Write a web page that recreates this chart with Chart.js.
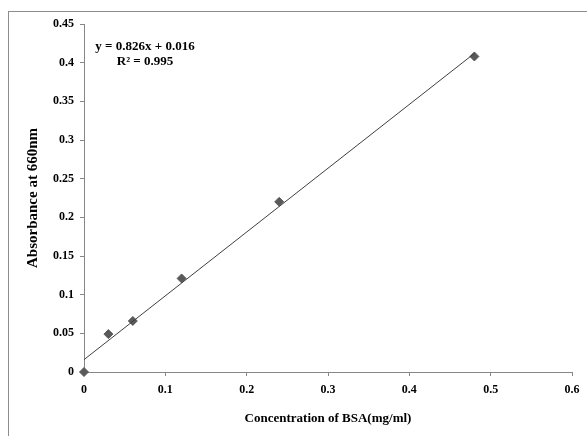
<!DOCTYPE html>
<html lang="en">
<head>
    <meta charset="UTF-8">
    <title>BSA standard curve</title>
    <script src="https://cdn.jsdelivr.net/npm/chart.js"></script>
    <style>
        html, body {
            margin: 0;
            padding: 0;
            background: #fff;
        }
        #wrap {
            width: 587px;
            height: 436px;
        }
    </style>
</head>
<body>
    <div id="wrap"><canvas id="bsaChart"></canvas></div>

    <script>
        // Concentración (mg/ml) y absorbancia
        const concentration = [0, 0.03, 0.06, 0.12, 0.24, 0.48];
        const absorbance = [0, 0.049, 0.066, 0.121, 0.22, 0.408];

        // extremos de la línea de tendencia
        const trendX = [0, 0.48];
        const trendY = [0.016, 0.412];

        const equationLines = ['y = 0.826x + 0.016', 'R² = 0.995'];

        const axisGray = '#878787';
        const serifBold = { family: '"Liberation Serif", "Times New Roman", serif', weight: 'bold' };

        function fmt(v) {
            return String(Number(v.toFixed(2)));
        }

        const framePlugin = {
            id: 'frame',
            beforeDraw(chart) {
                const ctx = chart.ctx;
                ctx.save();
                ctx.strokeStyle = '#8c8c8c';
                ctx.lineWidth = 1;
                ctx.strokeRect(8.5, 11.5, 700, 500);
                ctx.restore();
            },
            afterDraw(chart) {
                const ctx = chart.ctx;
                ctx.save();
                ctx.fillStyle = '#000';
                ctx.font = 'bold 13px "Liberation Serif", "Times New Roman", serif';
                ctx.textAlign = 'center';
                ctx.textBaseline = 'middle';
                ctx.fillText(equationLines[0], 145, 47);
                ctx.fillText(equationLines[1], 145, 62);
                ctx.restore();
            }
        };

        const ctx = document.getElementById('bsaChart').getContext('2d');

        new Chart(ctx, {
            type: 'scatter',
            data: {
                datasets: [
                    {
                        label: 'Trend',
                        data: trendX.map((x, i) => ({ x: x, y: trendY[i] })),
                        showLine: true,
                        borderColor: '#3f3f3f',
                        borderWidth: 1,
                        pointRadius: 0
                    },
                    {
                        label: 'Absorbance',
                        data: concentration.map((x, i) => ({ x: x, y: absorbance[i] })),
                        pointStyle: 'rectRot',
                        pointRadius: 4.5,
                        backgroundColor: '#595959',
                        borderColor: '#595959',
                        borderWidth: 1,
                        clip: false
                    }
                ]
            },
            options: {
                responsive: true,
                maintainAspectRatio: false,
                animation: false,
                layout: {
                    padding: { left: 0, top: 24, right: 15, bottom: 0 }
                },
                plugins: {
                    legend: { display: false },
                    tooltip: { enabled: false }
                },
                scales: {
                    x: {
                        type: 'linear',
                        min: 0,
                        max: 0.6,
                        afterFit: (scale) => { scale.height = 64; },
                        ticks: {
                            stepSize: 0.1,
                            padding: 7,
                            color: '#000',
                            font: { ...serifBold, size: 12 },
                            callback: (v) => fmt(v)
                        },
                        grid: {
                            drawOnChartArea: false,
                            drawTicks: true,
                            tickLength: 4,
                            color: axisGray
                        },
                        border: { color: axisGray },
                        title: {
                            display: true,
                            text: 'Concentration of BSA(mg/ml)',
                            color: '#000',
                            font: { ...serifBold, size: 13 },
                            padding: { top: 0, bottom: 10 }
                        }
                    },
                    y: {
                        min: 0,
                        max: 0.45,
                        afterFit: (scale) => { scale.width = 84; },
                        ticks: {
                            stepSize: 0.05,
                            padding: 6,
                            color: '#000',
                            font: { ...serifBold, size: 12 },
                            callback: (v) => fmt(v)
                        },
                        grid: {
                            drawOnChartArea: false,
                            drawTicks: true,
                            tickLength: 4,
                            color: axisGray
                        },
                        border: { color: axisGray },
                        title: {
                            display: true,
                            text: 'Absorbance at 660nm',
                            color: '#000',
                            font: { ...serifBold, size: 15 },
                            padding: { top: 24, bottom: 0 }
                        }
                    }
                }
            },
            plugins: [framePlugin]
        });
    </script>
</body>
</html>
